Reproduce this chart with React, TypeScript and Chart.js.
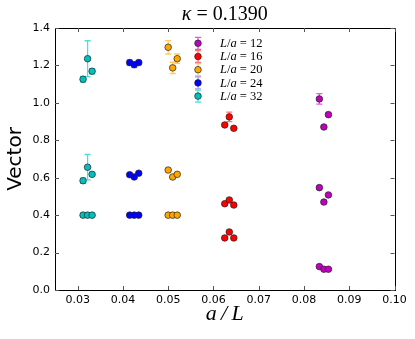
import React, { useEffect, useRef } from "react";
import { Chart, registerables } from "chart.js";

Chart.register(...registerables);

// ---- data ----
const L_LABELS = ["12", "16", "20", "24", "32"];
const COLORS = ["#bf00bf", "#ff0000", "#ffa500", "#0000ff", "#00bfbf"];
const BAR_COLORS = ["rgba(214,64,214,0.85)", "rgba(255,80,80,0.8)", "rgba(255,190,60,0.8)", "rgba(90,90,255,0.6)", "rgba(64,216,208,0.9)"];

const L12_X = [0.0834, 0.0854, 0.0844, 0.0834, 0.0854, 0.0844, 0.0834, 0.0844, 0.0854];
const L12_Y = [1.021, 0.937, 0.871, 0.547, 0.508, 0.470, 0.125, 0.111, 0.111];
const L12_ERR = [0.028, 0.006, 0.006, 0.006, 0.005, 0.005, 0.003, 0.003, 0.003];

const L16_X = [0.0625, 0.0635, 0.0645, 0.0625, 0.0635, 0.0645, 0.0625, 0.0635, 0.0645];
const L16_Y = [0.882, 0.925, 0.864, 0.461, 0.481, 0.454, 0.278, 0.310, 0.278];
const L16_ERR = [0.008, 0.025, 0.006, 0.005, 0.006, 0.004, 0.003, 0.004, 0.003];

const L20_X = [0.0500, 0.0510, 0.0520, 0.0500, 0.0510, 0.0520, 0.0500, 0.0510, 0.0520];
const L20_Y = [1.297, 1.187, 1.236, 0.641, 0.604, 0.618, 0.400, 0.400, 0.400];
const L20_ERR = [0.036, 0.030, 0.025, 0.006, 0.006, 0.006, 0.002, 0.002, 0.002];

const L24_X = [0.0415, 0.0425, 0.0435, 0.0415, 0.0425, 0.0435, 0.0415, 0.0425, 0.0435];
const L24_Y = [1.215, 1.204, 1.215, 0.616, 0.604, 0.624, 0.400, 0.400, 0.400];
const L24_ERR = [0.014, 0.016, 0.012, 0.005, 0.005, 0.005, 0.002, 0.002, 0.002];

const L32_X = [0.0312, 0.0322, 0.0332, 0.0312, 0.0322, 0.0332, 0.0312, 0.0322, 0.0332];
const L32_Y = [1.126, 1.236, 1.169, 0.584, 0.656, 0.618, 0.400, 0.400, 0.400];
const L32_ERR = [0.015, 0.096, 0.014, 0.014, 0.068, 0.010, 0.002, 0.002, 0.002];

const SERIES_X = [L12_X, L16_X, L20_X, L24_X, L32_X];
const SERIES_Y = [L12_Y, L16_Y, L20_Y, L24_Y, L32_Y];
const SERIES_ERR = [L12_ERR, L16_ERR, L20_ERR, L24_ERR, L32_ERR];

const X_TICKS = [0.03, 0.04, 0.05, 0.06, 0.07, 0.08, 0.09, 0.10];
const Y_TICKS = [0, 0.2, 0.4, 0.6, 0.8, 1.0, 1.2, 1.4];
const TITLE_PARTS: [string, boolean][] = [["κ", true], [" = 0.1390", false]];
const X_TITLE = "a\u2009/\u2009L";
const Y_TITLE = "Vector";

const SERIF = "'Liberation Serif', 'DejaVu Serif', serif";
const SANS = "'DejaVu Sans', sans-serif";

function drawParts(ctx: CanvasRenderingContext2D, parts: [string, boolean][], x: number, y: number, size: number, align: "left" | "center") {
  const fontOf = (it: boolean) => `${it ? "italic " : ""}${size}px ${SERIF}`;
  let total = 0;
  for (const [t, it] of parts) { ctx.font = fontOf(it); total += ctx.measureText(t).width; }
  let cx = align === "center" ? x - total / 2 : x;
  ctx.textAlign = "left";
  ctx.textBaseline = "middle";
  for (const [t, it] of parts) {
    ctx.font = fontOf(it);
    ctx.fillText(t, cx, y);
    cx += ctx.measureText(t).width;
  }
}

const errorBarPlugin = {
  id: "errorBars",
  beforeDatasetsDraw(chart: any) {
    const { ctx, scales } = chart;
    const xs = scales.x, ys = scales.y;
    ctx.save();
    SERIES_X.forEach((xArr, si) => {
      ctx.strokeStyle = BAR_COLORS[si];
      ctx.lineWidth = 1.3;
      xArr.forEach((xv, i) => {
        const px = xs.getPixelForValue(xv);
        const top = ys.getPixelForValue(SERIES_Y[si][i] + SERIES_ERR[si][i]);
        const bot = ys.getPixelForValue(SERIES_Y[si][i] - SERIES_ERR[si][i]);
        ctx.beginPath();
        ctx.moveTo(px, top); ctx.lineTo(px, bot);
        ctx.moveTo(px - 3, top); ctx.lineTo(px + 3, top);
        ctx.moveTo(px - 3, bot); ctx.lineTo(px + 3, bot);
        ctx.stroke();
      });
    });
    ctx.restore();
  },
};

const framePlugin = {
  id: "frame",
  afterDraw(chart: any) {
    const { ctx, chartArea: a, scales } = chart;
    ctx.save();
    // frame
    ctx.strokeStyle = "#000";
    ctx.lineWidth = 1;
    ctx.strokeRect(Math.round(a.left) + 0.5, Math.round(a.top) + 0.5, Math.round(a.right - a.left), Math.round(a.bottom - a.top));
    // inward ticks
    ctx.strokeStyle = "#555";
    ctx.beginPath();
    X_TICKS.forEach((v) => {
      const px = Math.round(scales.x.getPixelForValue(v)) + 0.5;
      ctx.moveTo(px, a.bottom); ctx.lineTo(px, a.bottom - 4);
      ctx.moveTo(px, a.top); ctx.lineTo(px, a.top + 4);
    });
    Y_TICKS.forEach((v) => {
      const py = Math.round(scales.y.getPixelForValue(v)) + 0.5;
      ctx.moveTo(a.left, py); ctx.lineTo(a.left + 4, py);
      ctx.moveTo(a.right, py); ctx.lineTo(a.right - 4, py);
    });
    ctx.stroke();
    // title
    ctx.fillStyle = "#000";
    drawParts(ctx, TITLE_PARTS, (a.left + a.right) / 2, 15, 20, "center");
    // legend
    const lx = 198, ly0 = 43.3, step = 13.2;
    L_LABELS.forEach((lab, i) => {
      const y = ly0 + i * step;
      ctx.strokeStyle = BAR_COLORS[i];
      ctx.lineWidth = 1.3;
      ctx.beginPath();
      ctx.moveTo(lx, y - 6); ctx.lineTo(lx, y + 6);
      ctx.moveTo(lx - 3, y - 6); ctx.lineTo(lx + 3, y - 6);
      ctx.moveTo(lx - 3, y + 6); ctx.lineTo(lx + 3, y + 6);
      ctx.stroke();
      ctx.beginPath();
      ctx.arc(lx, y, 3.3, 0, Math.PI * 2);
      ctx.fillStyle = COLORS[i];
      ctx.fill();
      ctx.strokeStyle = "#222";
      ctx.lineWidth = 0.7;
      ctx.stroke();
      ctx.fillStyle = "#000";
      drawParts(ctx, [["L", true], ["/", false], ["a", true], [" = " + lab, false]], 220, y + 0.5, 12.5, "left");
    });
    ctx.restore();
  },
};

export default function App() {
  const ref = useRef<HTMLCanvasElement>(null);
  useEffect(() => {
    if (!ref.current) return;
    const datasets = SERIES_X.map((xArr, si) => ({
      label: "L/a = " + L_LABELS[si],
      data: xArr.map((x, i) => ({ x, y: SERIES_Y[si][i] })),
      backgroundColor: COLORS[si],
      borderColor: "#222",
      borderWidth: 0.7,
      pointRadius: 3.3,
      pointHoverRadius: 3.3,
      showLine: false,
    }));
    const chart = new Chart(ref.current, {
      type: "scatter",
      data: { datasets },
      options: {
        animation: false,
        responsive: false,
        devicePixelRatio: 1,
        layout: { padding: { top: 28, right: 20.5, left: 0, bottom: 0 } },
        plugins: { legend: { display: false }, tooltip: { enabled: false }, title: { display: false } },
        scales: {
          x: {
            type: "linear",
            min: 0.025,
            max: 0.1,
            afterBuildTicks: (s: any) => { s.ticks = X_TICKS.map((v) => ({ value: v })); },
            afterFit: (s: any) => { s.height = 49; },
            grid: { display: false, drawTicks: false },
            border: { display: false },
            ticks: { color: "#000", font: { family: SANS, size: 11 }, padding: 4, maxRotation: 0, autoSkip: false, callback: (v: any) => Number(v).toFixed(2) },
            title: { display: true, text: X_TITLE, color: "#000", font: { family: SERIF, size: 22, style: "italic", lineHeight: 1.2 }, padding: { top: 0, bottom: 12 } },
          },
          y: {
            type: "linear",
            min: 0,
            max: 1.4,
            afterBuildTicks: (s: any) => { s.ticks = Y_TICKS.map((v) => ({ value: v })); },
            afterFit: (s: any) => { s.width = 55; },
            grid: { display: false, drawTicks: false },
            border: { display: false },
            ticks: { color: "#000", font: { family: SANS, size: 11 }, padding: 5, autoSkip: false, callback: (v: any) => Number(v).toFixed(1) },
            title: { display: true, text: Y_TITLE, color: "#000", font: { family: SANS, size: 20, lineHeight: 1.2 }, padding: { top: 4, bottom: 0 } },
          },
        },
      },
      plugins: [errorBarPlugin, framePlugin],
    } as any);
    return () => chart.destroy();
  }, []);
  return (
    <div style={{ position: "fixed", left: 0, top: 0, width: 415, height: 339, background: "#fff" }}>
      <canvas ref={ref} width={415} height={339} style={{ width: 415, height: 339, display: "block" }} />
    </div>
  );
}
